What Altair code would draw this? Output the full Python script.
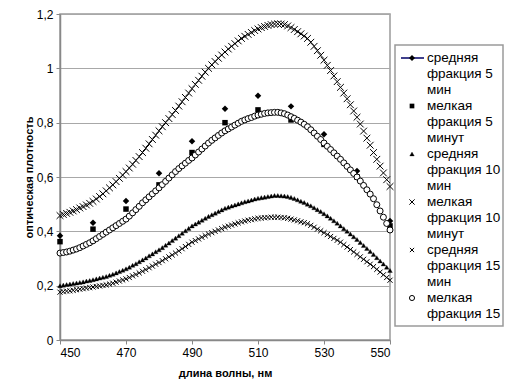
import altair as alt
import pandas as pd

series_names = [
    "средняя фракция 5 мин",
    "мелкая фракция 5 минут",
    "средняя фракция 10 мин",
    "мелкая фракция 10 минут",
    "средняя фракция 15 мин",
    "мелкая фракция 15 минут",
]

wl_sparse = [450, 460, 470, 480, 490, 500, 510, 520, 530, 540, 550]
sred5 = [0.384, 0.432, 0.512, 0.614, 0.732, 0.851, 0.899, 0.860, 0.757, 0.622, 0.438]
melk5 = [0.362, 0.408, 0.482, 0.571, 0.690, 0.800, 0.847, 0.810, 0.720, 0.600, 0.420]

wl_dense = list(range(450, 551))
sred10 = [0.200, 0.202, 0.204, 0.206, 0.208, 0.210,
          0.212, 0.214, 0.217, 0.219, 0.222,
          0.225, 0.228, 0.231, 0.234, 0.238,
          0.242, 0.247, 0.252, 0.257, 0.262,
          0.268, 0.275, 0.281, 0.288, 0.295,
          0.302, 0.310, 0.317, 0.325, 0.332,
          0.340, 0.349, 0.357, 0.366, 0.375,
          0.384, 0.393, 0.402, 0.411, 0.420,
          0.427, 0.434, 0.441, 0.448, 0.455,
          0.461, 0.467, 0.473, 0.479, 0.485,
          0.489, 0.493, 0.497, 0.501, 0.505,
          0.509, 0.512, 0.515, 0.519, 0.522,
          0.524, 0.526, 0.528, 0.530, 0.532,
          0.532, 0.531, 0.530, 0.528, 0.525,
          0.521, 0.516, 0.511, 0.506, 0.500,
          0.494, 0.487, 0.480, 0.473, 0.465,
          0.457, 0.448, 0.439, 0.430, 0.420,
          0.410, 0.400, 0.390, 0.380, 0.370,
          0.359, 0.348, 0.337, 0.326, 0.315,
          0.303, 0.291, 0.280, 0.268, 0.256]
melk10 = [0.458, 0.462, 0.466, 0.470, 0.475, 0.480,
          0.486, 0.491, 0.497, 0.503, 0.510,
          0.519, 0.528, 0.538, 0.549, 0.560,
          0.571, 0.583, 0.595, 0.607, 0.620,
          0.633, 0.647, 0.661, 0.675, 0.690,
          0.706, 0.722, 0.738, 0.754, 0.770,
          0.785, 0.800, 0.815, 0.830, 0.845,
          0.861, 0.877, 0.893, 0.909, 0.925,
          0.941, 0.956, 0.971, 0.986, 1.000,
          1.013, 1.025, 1.037, 1.049, 1.060,
          1.071, 1.081, 1.091, 1.101, 1.110,
          1.118, 1.125, 1.132, 1.139, 1.145,
          1.150, 1.154, 1.158, 1.161, 1.163,
          1.164, 1.163, 1.161, 1.156, 1.150,
          1.143, 1.135, 1.127, 1.119, 1.110,
          1.096, 1.081, 1.065, 1.048, 1.030,
          1.011, 0.992, 0.972, 0.951, 0.930,
          0.909, 0.888, 0.866, 0.843, 0.820,
          0.795, 0.769, 0.743, 0.717, 0.690,
          0.665, 0.640, 0.615, 0.590, 0.565]
sred15 = [0.176, 0.178, 0.180, 0.181, 0.183, 0.185,
          0.187, 0.189, 0.191, 0.193, 0.195,
          0.197, 0.199, 0.201, 0.203, 0.206,
          0.209, 0.213, 0.217, 0.221, 0.225,
          0.230, 0.236, 0.241, 0.247, 0.253,
          0.259, 0.266, 0.272, 0.279, 0.285,
          0.292, 0.299, 0.306, 0.313, 0.320,
          0.328, 0.336, 0.344, 0.352, 0.360,
          0.366, 0.372, 0.378, 0.384, 0.390,
          0.395, 0.400, 0.405, 0.410, 0.415,
          0.419, 0.423, 0.427, 0.431, 0.435,
          0.438, 0.441, 0.443, 0.446, 0.448,
          0.449, 0.450, 0.451, 0.452, 0.452,
          0.452, 0.451, 0.450, 0.448, 0.445,
          0.442, 0.439, 0.435, 0.432, 0.428,
          0.422, 0.415, 0.408, 0.402, 0.395,
          0.388, 0.381, 0.374, 0.367, 0.360,
          0.351, 0.342, 0.333, 0.324, 0.315,
          0.306, 0.297, 0.288, 0.279, 0.270,
          0.260, 0.250, 0.240, 0.230, 0.220]
melk15 = [0.320, 0.322, 0.324, 0.327, 0.331, 0.335,
          0.340, 0.346, 0.352, 0.358, 0.365,
          0.373, 0.381, 0.389, 0.397, 0.405,
          0.413, 0.421, 0.429, 0.437, 0.445,
          0.456, 0.468, 0.480, 0.492, 0.505,
          0.516, 0.527, 0.538, 0.549, 0.560,
          0.572, 0.584, 0.596, 0.608, 0.620,
          0.631, 0.641, 0.651, 0.661, 0.670,
          0.681, 0.692, 0.703, 0.714, 0.725,
          0.735, 0.744, 0.753, 0.762, 0.770,
          0.777, 0.784, 0.791, 0.798, 0.805,
          0.810, 0.815, 0.819, 0.824, 0.828,
          0.831, 0.834, 0.836, 0.837, 0.838,
          0.838, 0.836, 0.833, 0.828, 0.822,
          0.816, 0.809, 0.802, 0.794, 0.785,
          0.774, 0.762, 0.750, 0.738, 0.725,
          0.713, 0.701, 0.689, 0.677, 0.665,
          0.652, 0.639, 0.626, 0.613, 0.600,
          0.585, 0.569, 0.553, 0.537, 0.520,
          0.498, 0.475, 0.452, 0.429, 0.405]

x_ticks = [450, 470, 490, 510, 530, 550]
y_ticks = [0, 0.2, 0.4, 0.6, 0.8, 1.0, 1.2]

for arr in (sred10, melk10, sred15, melk15):
    assert len(arr) == len(wl_dense), len(arr)

series_x = [wl_sparse, wl_sparse, wl_dense, wl_dense, wl_dense, wl_dense]
series_y = [sred5, melk5, sred10, melk10, sred15, melk15]

X_PATH = "M-1,-1L1,1M-1,1L1,-1"
# marker style per series: shape, size (plot), size (legend), fill, stroke width
styles = [
    dict(shape="diamond", size=42, lsize=36, fill="black", sw=0),
    dict(shape="square", size=30, lsize=22, fill="black", sw=0),
    dict(shape="triangle-up", size=22, lsize=20, fill="black", sw=0.3),
    dict(shape=X_PATH, size=46, lsize=28, fill="none", sw=1),
    dict(shape=X_PATH, size=26, lsize=18, fill="none", sw=1),
    dict(shape="circle", size=36, lsize=26, fill="white", sw=1),
]

PLOT_H = 326

x_enc = alt.X("wl:Q", scale=alt.Scale(domain=[450, 550], nice=False, zero=False),
              axis=alt.Axis(values=x_ticks, title="длина волны, нм", grid=False,
                            titleX=165, titleY=33, titleBaseline="middle"))
y_enc = alt.Y("od:Q", scale=alt.Scale(domain=[0, 1.2], nice=False, zero=True),
              axis=alt.Axis(values=y_ticks, title="оптическая плотность", grid=True,
                            labelExpr="replace(format(datum.value, '~g'), '.', ',')",
                            titleX=-31, titleY=PLOT_H / 2, titleBaseline="middle",
                            titleAngle=-90))


def mark_props(st, size_key):
    mk = dict(shape=st["shape"], size=st[size_key], stroke="black",
              strokeWidth=st["sw"], opacity=1)
    if st["fill"] == "none":
        mk["filled"] = False
    else:
        mk["filled"] = True
        mk["fill"] = st["fill"]
    return mk


data_layers = []
for name, xs, ys, st in zip(series_names, series_x, series_y, styles):
    d = pd.DataFrame({"wl": xs, "od": ys, "series": name})
    data_layers.append(
        alt.Chart(d).mark_point(**mark_props(st, "size")).encode(x=x_enc, y=y_enc)
    )
data_group = alt.layer(*data_layers)

# ---- legend (drawn manually, rows positioned through a scale) ----
legend_lines = []
for name in series_names:
    w = name.split(" ")
    legend_lines += [w[0], w[1] + " " + w[2], w[3]]
legend_lines = legend_lines[:-1]  # last line is cut off by the legend box
leg_text_df = pd.DataFrame({"row": list(range(len(legend_lines))), "txt": legend_lines})

leg_y = alt.Scale(domain=[0, 20], range=[44, 364])

leg_box = alt.Chart(pd.DataFrame({"a": [0]})).mark_rect(
    fill="white", stroke="#9a9a9a", strokeWidth=1.5
).encode(x=alt.value(335), x2=alt.value(443), y=alt.value(31), y2=alt.value(312))

leg_line = alt.Chart(pd.DataFrame({"row": [0]})).mark_rule(color="#000066", strokeWidth=1.5).encode(
    x=alt.value(341), x2=alt.value(364),
    y=alt.Y("row:Q", scale=leg_y, axis=None),
)

leg_syms = []
for i, (name, st) in enumerate(zip(series_names, styles)):
    leg_syms.append(
        alt.Chart(pd.DataFrame({"row": [3 * i], "series": [name]}))
        .mark_point(**mark_props(st, "lsize"))
        .encode(x=alt.value(352), y=alt.Y("row:Q", scale=leg_y, axis=None))
    )

leg_txt = alt.Chart(leg_text_df).mark_text(
    align="left", baseline="middle", fontSize=13.5, font="Liberation Sans", color="black"
).encode(
    x=alt.value(367),
    y=alt.Y("row:Q", scale=leg_y, axis=None),
    text="txt:N",
)

legend_group = alt.layer(leg_box, leg_line, *leg_syms, leg_txt)

chart = alt.layer(data_group, legend_group).resolve_scale(
    y="independent"
).properties(
    width=330, height=PLOT_H,
    padding={"left": 52, "top": 6, "right": 114, "bottom": 42},
    autosize=alt.AutoSizeParams(type="none"),
).configure(
    font="Liberation Sans",
).configure_view(
    stroke="#9a9a9a", strokeWidth=1.5,
).configure_axis(
    labelFont="Liberation Sans", labelFontSize=12, labelColor="black",
    titleFont="Liberation Sans", titleFontSize=11, titleFontWeight="bold", titleColor="black",
    domainColor="#888888", domainWidth=1.5, tickColor="#888888", tickSize=4,
    gridColor="#a8a8a8", gridWidth=1, labelPadding=3,
)

chart.save("out.html", embed_options={"renderer": "svg", "actions": False})
